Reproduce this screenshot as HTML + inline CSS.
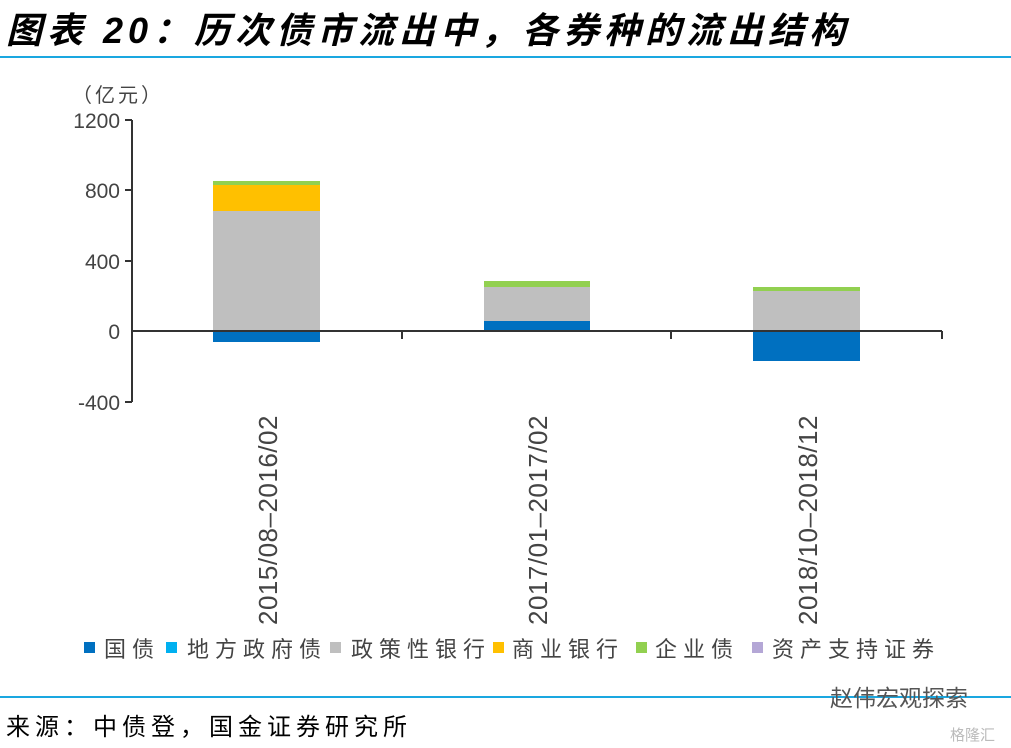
<!DOCTYPE html>
<html><head><meta charset="utf-8"><style>
body{margin:0;width:1011px;height:748px;background:#fff;overflow:hidden;position:relative;font-family:"Liberation Sans","Noto Sans CJK SC",sans-serif}
.a{position:absolute}
</style></head><body>
<div class="a" style="left:6px;top:2px;font-size:36px;font-style:italic;font-weight:bold;color:#000;letter-spacing:5px;white-space:nowrap;font-family:'Liberation Sans','Noto Sans CJK SC',sans-serif">图表 20：历次债市流出中，各券种的流出结构</div>
<div class="a" style="left:0;top:56px;width:1011px;height:2px;background:#1aa7e0"></div>
<svg class="a" style="left:0;top:0" width="1011" height="748">
<g font-family="Liberation Sans, Noto Sans CJK SC, sans-serif" font-size="21" fill="#444">
<text x="72" y="102" font-size="20" letter-spacing="3">（亿元）</text>
<text x="120" y="128" text-anchor="end">1200</text>
<text x="120" y="198" text-anchor="end">800</text>
<text x="120" y="269" text-anchor="end">400</text>
<text x="120" y="339" text-anchor="end">0</text>
<text x="120" y="410" text-anchor="end">-400</text>
</g>
<g stroke="#333" stroke-width="2">
<line x1="132" y1="120" x2="132" y2="402"/>
<line x1="125" y1="120" x2="132" y2="120"/><line x1="125" y1="190" x2="132" y2="190"/><line x1="125" y1="261" x2="132" y2="261"/><line x1="125" y1="402" x2="132" y2="402"/>
</g>
<rect x="213" y="181" width="107" height="4" fill="#92d050"/>
<rect x="213" y="185" width="107" height="26" fill="#ffc000"/>
<rect x="213" y="211" width="107" height="120" fill="#bfbfbf"/>
<rect x="213" y="331" width="107" height="11" fill="#0070c0"/>
<rect x="484" y="281" width="106" height="6" fill="#92d050"/>
<rect x="484" y="287" width="106" height="34" fill="#bfbfbf"/>
<rect x="484" y="321" width="106" height="10" fill="#0070c0"/>
<rect x="753" y="287" width="107" height="4" fill="#92d050"/>
<rect x="753" y="291" width="107" height="40" fill="#bfbfbf"/>
<rect x="753" y="331" width="107" height="30" fill="#0070c0"/>
<g stroke="#333" stroke-width="2">
<line x1="132" y1="331" x2="942" y2="331"/>
<line x1="402" y1="331" x2="402" y2="339"/><line x1="671" y1="331" x2="671" y2="339"/><line x1="942" y1="331" x2="942" y2="339"/>
</g>
<g font-family="Liberation Sans, sans-serif" font-size="26" fill="#444" letter-spacing="0.5">
<text transform="translate(277,625) rotate(-90)">2015/08–2016/02</text>
<text transform="translate(547,625) rotate(-90)">2017/01–2017/02</text>
<text transform="translate(817,625) rotate(-90)">2018/10–2018/12</text>
</g>
<g font-family="Liberation Sans, Noto Sans CJK SC, sans-serif" font-size="22" fill="#444" letter-spacing="6">
<rect x="84" y="642" width="11" height="11" fill="#0070c0"/><text x="104" y="657">国债</text>
<rect x="166" y="642" width="11" height="11" fill="#00b0f0"/><text x="187" y="657">地方政府债</text>
<rect x="330" y="642" width="11" height="11" fill="#bfbfbf"/><text x="351" y="657">政策性银行</text>
<rect x="493" y="642" width="11" height="11" fill="#ffc000"/><text x="512" y="657">商业银行</text>
<rect x="636" y="642" width="11" height="11" fill="#92d050"/><text x="655" y="657">企业债</text>
<rect x="752" y="642" width="11" height="11" fill="#b4a7d6"/><text x="772" y="657">资产支持证券</text>
</g>
<line x1="0" y1="697" x2="1011" y2="697" stroke="#1aa7e0" stroke-width="2"/>
<text x="830" y="706" font-family="Liberation Sans, Noto Sans CJK SC, sans-serif" font-size="23" fill="#555">赵伟宏观探索</text>
<text x="950" y="740" font-family="Liberation Sans, Noto Sans CJK SC, sans-serif" font-size="15" fill="#bbb">格隆汇</text>
<text x="6" y="735" font-family="Liberation Sans, Noto Sans CJK SC, sans-serif" font-size="24" fill="#000" letter-spacing="5">来源：中债登，国金证券研究所</text>
</svg>
</body></html>
